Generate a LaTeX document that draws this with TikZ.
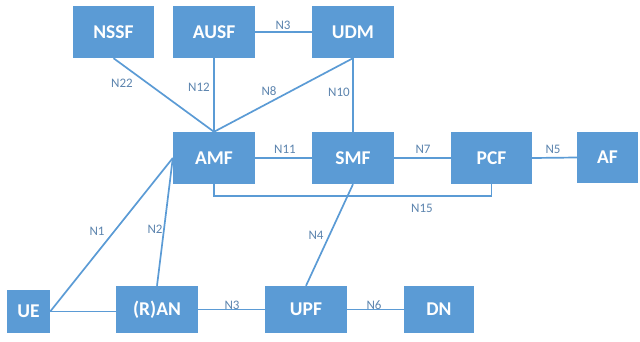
\documentclass[tikz,border=0pt]{standalone}
\usepackage{fontspec}
\setmainfont{Carlito}
\definecolor{nfblue}{HTML}{5B9BD5}
\definecolor{lbl}{HTML}{5C84AE}
\begin{document}
\begin{tikzpicture}[x=1pt,y=-1pt,
  nf/.style={fill=nfblue, draw=none, text=white, font=\fontsize{19.5}{20}\selectfont\bfseries,
             minimum width=82pt, minimum height=52pt, inner sep=0pt},
  link/.style={draw=nfblue, line width=1.7pt},
  ref/.style={text=lbl, font=\fontsize{13}{14}\selectfont, inner sep=0pt}]
\useasboundingbox (0,0) rectangle (640,341);

% network functions
\node[nf, minimum width=81pt] (nssf) at (113.5,32) {NSSF};
\node[nf] (ausf) at (214,32) {AUSF};
\node[nf] (udm)  at (353,32) {UDM};
\node[nf] (amf)  at (214,158) {AMF};
\node[nf] (smf)  at (353,158) {SMF};
\node[nf, minimum width=81pt] (pcf) at (491.5,158) {PCF};
\node[nf, minimum width=61pt, minimum height=51pt] (af) at (607.5,157.5) {AF};
\node[nf, minimum width=43pt, minimum height=43pt] (ue) at (28.5,311.5) {UE};
\node[nf, minimum height=47pt] (ran) at (157,309.5) {(R)AN};
\node[nf, minimum height=47pt] (upf) at (306,309.5) {UPF};
\node[nf, minimum width=70pt, minimum height=47pt] (dn) at (439,309.5) {DN};

% reference points
\draw[link] (ausf.east) -- (udm.west);
\draw[link] (nssf.south) -- (amf.north);
\draw[link] (ausf.south) -- (amf.north);
\draw[link] (udm.south) -- (amf.north);
\draw[link] (udm.south) -- (smf.north);
\draw[link] (amf.east) -- (smf.west);
\draw[link] (smf.east) -- (pcf.west);
\draw[link] (pcf.east) -- (af.west);
\coordinate (n15a) at ([yshift=-12pt]amf.south);
\coordinate (n15b) at ([yshift=-12pt]pcf.south);
\draw[link] (amf.south) -- (n15a) -- (n15b) -- (pcf.south);
\draw[link] (upf.north) -- (smf.south);
\draw[link] (ue.east) -- (amf.west);
\draw[link] (ran.north) -- (amf.west);
\draw[link] (ue.east) -- (ran.west |- ue.east);
\draw[link] (ran.east) -- (upf.west);
\draw[link] (upf.east) -- (dn.west);

% labels
\node[ref] (l3a) at (283,25) {N3};
\node[ref] (l22) at (122,83) {N22};
\node[ref] (l12) at (199,87) {N12};
\node[ref] (l8)  at (269,91) {N8};
\node[ref] (l10) at (339,92) {N10};
\node[ref] (l11) at (285,149) {N11};
\node[ref] (l7)  at (423,149) {N7};
\node[ref] (l5)  at (553,149) {N5};
\node[ref] (l15) at (422,208) {N15};
\node[ref] (l4)  at (316,235) {N4};
\node[ref] (l1)  at (97,231) {N1};
\node[ref] (l2)  at (155,229) {N2};
\node[ref] (l3b) at (232,305) {N3};
\node[ref] (l6)  at (374,305) {N6};
\end{tikzpicture}
\end{document}
